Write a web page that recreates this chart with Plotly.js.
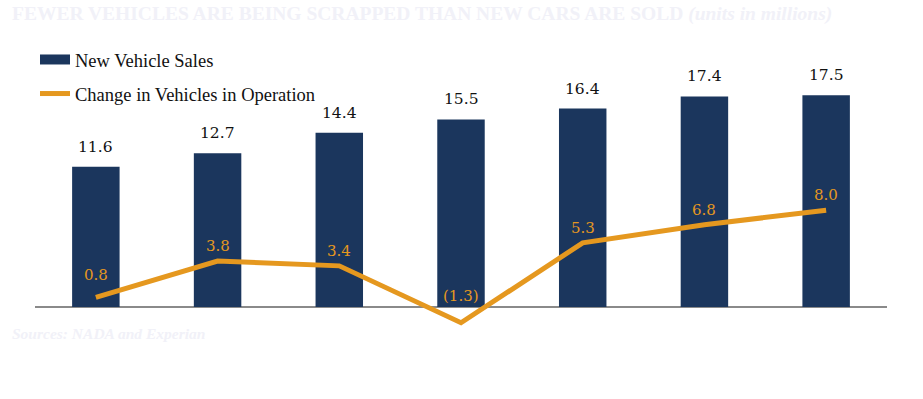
<!DOCTYPE html>
<html>
<head>
<meta charset="utf-8">
<script src="https://cdn.plot.ly/plotly-3.0.1.min.js"></script>
<style>html,body{margin:0;padding:0;background:#fff;}#chart{width:923px;height:399px;}</style>
</head>
<body>
<div id="chart"></div>
<script>
const categories = ["2010", "2011", "2012", "2013", "2014", "2015", "2016"];
const newVehicleSales = [11.6, 12.7, 14.4, 15.5, 16.4, 17.4, 17.5];
const changeInOperation = [0.8, 3.8, 3.4, -1.3, 5.3, 6.8, 8.0];
const salesLabels = ["11.6", "12.7", "14.4", "15.5", "16.4", "17.4", "17.5"];
const changeLabels = ["0.8", "3.8", "3.4", "(1.3)", "5.3", "6.8", "8.0"];

const serif = "'Liberation Serif', 'DejaVu Serif', serif";
const numFont = "'DejaVu Serif', serif";
const navy = "#1b365d";
const orange = "#e5981f";

const traces = [
  {
    type: "bar", x: categories, y: newVehicleSales, name: "New Vehicle Sales",
    marker: {color: navy}, width: 0.39, showlegend: false, hoverinfo: "skip"
  },
  {
    type: "scatter", mode: "lines", x: [categories[0]], y: [null],
    name: "New Vehicle Sales", legendgroup: "a",
    line: {color: navy, width: 12}, hoverinfo: "skip"
  },
  {
    type: "scatter", mode: "lines", x: categories, y: changeInOperation,
    name: "Change in Vehicles in Operation", legendgroup: "b",
    line: {color: orange, width: 5}, hoverinfo: "skip"
  }
];

const annotations = newVehicleSales.map((v, i) => ({
  x: i, y: v, xref: "x", yref: "y",
  text: salesLabels[i], showarrow: false, yanchor: "bottom", yshift: 9,
  font: {family: numFont, size: 15.5, color: "#111"}
})).concat(changeInOperation.map((v, i) => ({
  x: i, y: v, xref: "x", yref: "y",
  text: changeLabels[i], showarrow: false, yanchor: "bottom",
  yshift: v < 0 ? 16 : (i === 0 ? 11 : 4),
  font: {family: numFont, size: 15, color: orange}
})));

annotations.push({
  xref: "paper", yref: "paper", x: 0, y: 1, xshift: -25, yshift: 46,
  xanchor: "left", yanchor: "middle", showarrow: false,
  text: "<b>FEWER VEHICLES ARE BEING SCRAPPED THAN NEW CARS ARE SOLD</b> <b><i>(units in millions)</i></b>",
  font: {family: serif, size: 19.5, color: "#f1f1f8"}
});
annotations.push({
  xref: "paper", yref: "paper", x: 0, y: 0, xshift: -25, yshift: 7,
  xanchor: "left", yanchor: "middle", showarrow: false,
  text: "<b><i>Sources: NADA and Experian</i></b>",
  font: {family: serif, size: 15.5, color: "#f1f1f8"}
});

const layout = {
  width: 923, height: 399,
  margin: {l: 35, r: 36, t: 60, b: 59},
  paper_bgcolor: "#fff", plot_bgcolor: "#fff",
  showlegend: true,
  legend: {
    x: 0, y: 1.068, xanchor: "left", yanchor: "top",
    font: {family: serif, size: 18.5, color: "#111"},
    traceorder: "grouped", tracegroupgap: 7, bgcolor: "rgba(0,0,0,0)"
  },
  xaxis: {
    type: "category", range: [-0.5, 6.5], showticklabels: false,
    showgrid: false, zeroline: false, showline: false, ticks: ""
  },
  yaxis: {
    range: [-2.727, 20.413], showticklabels: false, showgrid: false,
    zeroline: true, zerolinecolor: "#8a8a8a", zerolinewidth: 2, showline: false, ticks: ""
  },
  annotations: annotations
};

Plotly.newPlot("chart", traces, layout, {displayModeBar: false, staticPlot: true});
</script>
</body>
</html>
